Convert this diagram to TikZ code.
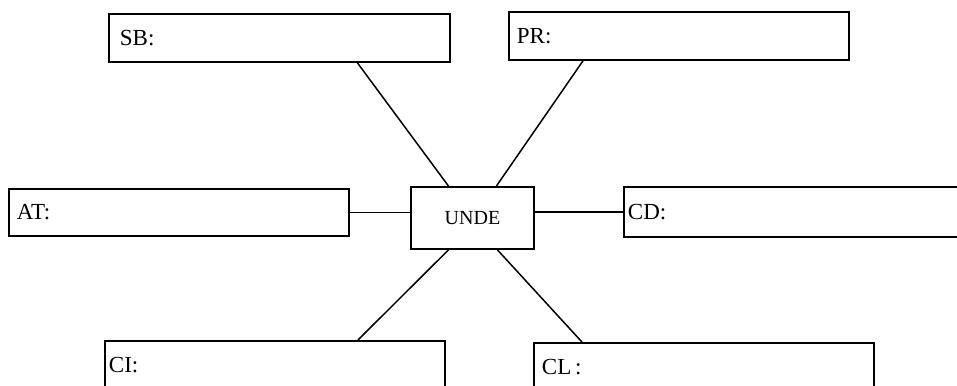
\documentclass[tikz,border=0pt]{standalone}
\usepackage{fontspec}
\setmainfont{Liberation Serif}
\usetikzlibrary{calc}
\tikzset{
  field/.style={draw, line width=1.9pt, rectangle, anchor=north west, minimum height=48pt,
    inner xsep=8pt, inner ysep=0pt, text width=324pt, align=left, font=\fontsize{23}{24}\selectfont},
  hub/.style={draw, line width=1.9pt, rectangle, anchor=north west, minimum width=123pt,
    minimum height=62pt, font=\fontsize{20}{22}\selectfont},
  link/.style={line width=1.5pt}
}
\begin{document}
\begin{tikzpicture}[x=1pt,y=-1pt]
\clip (0,0) rectangle (957,385);
\node[hub] (unde) at (410,186){UNDE};
\node[field, inner xsep=11pt, text width=319pt] (sb) at (108,13){SB:};
\node[field] (pr) at (508,11){PR:};
\node[field, minimum height=47pt] (at) at (8,188){AT:};
\node[field, inner xsep=4pt, minimum height=50pt, text width=360pt] (cd) at (623,186){CD:};
\node[field, inner xsep=4pt, text width=332pt] (ci) at (104,340){CI:};
\node[field] (cl) at (533,342){CL\,:};
\draw[link] ([xshift=78pt]sb.south) -- ([xshift=-24pt]unde.north);
\draw[link] ([xshift=-96pt]pr.south) -- ([xshift=24pt]unde.north);
\draw[link] (at.east) -- (at.east -| unde.west);
\draw[link] (cd.west) -- (cd.west -| unde.east);
\draw[link] ([xshift=-24pt]unde.south) -- ([xshift=83pt]ci.north);
\draw[link] ([xshift=25pt]unde.south) -- ([xshift=-122pt]cl.north);
\end{tikzpicture}
\end{document}
